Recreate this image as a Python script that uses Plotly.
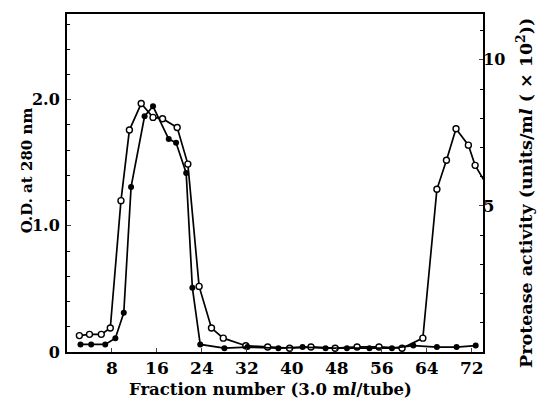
import plotly.graph_objects as go

# O.D. at 280 nm (open circles, left axis)
od_x = [2.2, 4.0, 6.1, 7.7, 9.6, 11.1, 13.2, 15.3, 17.0, 19.6, 21.5, 23.5, 25.7, 27.8,
        31.8, 35.7, 39.6, 43.4, 47.7, 51.6, 55.5, 59.6, 63.3, 65.8, 67.5, 69.2, 71.4, 72.6, 75.0]
od_y = [0.13, 0.14, 0.14, 0.19, 1.20, 1.76, 1.97, 1.86, 1.85, 1.78, 1.49, 0.52, 0.19, 0.11,
        0.05, 0.04, 0.03, 0.04, 0.03, 0.04, 0.04, 0.03, 0.11, 1.29, 1.52, 1.77, 1.64, 1.48, 1.30]

# Protease activity (filled circles, right axis, units/ml x 10^2)
pa_x = [2.4, 4.3, 6.8, 8.6, 10.1, 11.4, 13.8, 15.3, 18.1, 19.4, 21.2, 22.3, 23.7, 28.0,
        32.1, 37.6, 41.9, 46.0, 49.8, 53.8, 57.8, 61.6, 65.8, 69.3, 72.7]
pa_y = [0.26, 0.26, 0.26, 0.47, 1.34, 5.65, 8.07, 8.41, 7.29, 7.16, 6.13, 2.20, 0.26, 0.13,
        0.17, 0.13, 0.17, 0.13, 0.13, 0.13, 0.13, 0.22, 0.17, 0.17, 0.22]

x_ticks = [8, 16, 24, 32, 40, 48, 56, 64, 72]
left_ticks = [0, 1, 2]
left_labels = ["0", "1.0", "2.0"]
right_ticks = [5, 10]
right_labels = ["5", "10"]

FONT = "DejaVu Serif"

fig = go.Figure()
fig.add_trace(go.Scatter(
    x=od_x, y=od_y, mode="lines+markers",
    line=dict(color="black", width=1.7),
    marker=dict(symbol="circle", size=6, color="white", line=dict(color="black", width=1.4)),
    cliponaxis=True, showlegend=False))
fig.add_trace(go.Scatter(
    x=pa_x, y=pa_y, mode="lines+markers", yaxis="y2",
    line=dict(color="black", width=1.7),
    marker=dict(symbol="circle", size=6, color="black"),
    cliponaxis=True, showlegend=False))

fig.update_layout(
    width=537, height=404,
    margin=dict(l=67, r=54, t=14, b=52),
    paper_bgcolor="white", plot_bgcolor="white",
    font=dict(family=FONT, size=16, color="black"),
    xaxis=dict(range=[0, 74], tickvals=x_ticks, ticks="inside", ticklen=4, tickwidth=1.2,
               showline=True, linecolor="black", linewidth=2, mirror=True,
               showgrid=False, zeroline=False,
               tickfont=dict(family=FONT, size=17, color="black", weight="bold")),
    yaxis=dict(range=[0, 2.68], tickvals=left_ticks, ticktext=left_labels,
               ticks="inside", ticklen=4, tickwidth=1.2,
               minor=dict(tick0=0, dtick=0.2, ticks="inside", ticklen=3, tickcolor="black"),
               showline=True, linecolor="black", linewidth=2,
               showgrid=False, zeroline=False, ticklabelstandoff=2,
               tickfont=dict(family=FONT, size=16, color="black", weight="bold")),
    yaxis2=dict(range=[0, 11.57], overlaying="y", side="right", tickvals=right_ticks,
                ticktext=right_labels, ticks="inside", ticklen=4, tickwidth=1.2,
                minor=dict(tick0=0, dtick=1, ticks="inside", ticklen=3, tickcolor="black"),
                showline=True, linecolor="black", linewidth=2,
                showgrid=False, zeroline=False, ticklabelstandoff=-5,
                tickfont=dict(family=FONT, size=16, color="black", weight="bold")),
    annotations=[
        dict(text="<b>Fraction number (3.0 m<i>l</i>/tube)</b>", xref="paper", yref="paper",
             x=0.49, y=-0.112, xanchor="center", yanchor="middle", showarrow=False,
             font=dict(family=FONT, size=16.5, color="black")),
        dict(text="<b>O.D. at 280 nm</b>", xref="paper", yref="paper",
             x=-0.096, y=0.538, xanchor="center", yanchor="middle", textangle=-90,
             showarrow=False, font=dict(family=FONT, size=15, color="black")),
        dict(text="<b>Protease activity (units/m<i>l</i> ( × 10<sup>2</sup>))</b>",
             xref="paper", yref="paper",
             x=1.098, y=0.47, xanchor="center", yanchor="middle", textangle=-90,
             showarrow=False, font=dict(family=FONT, size=17.5, color="black")),
    ],
)

fig.write_html("out.html")
